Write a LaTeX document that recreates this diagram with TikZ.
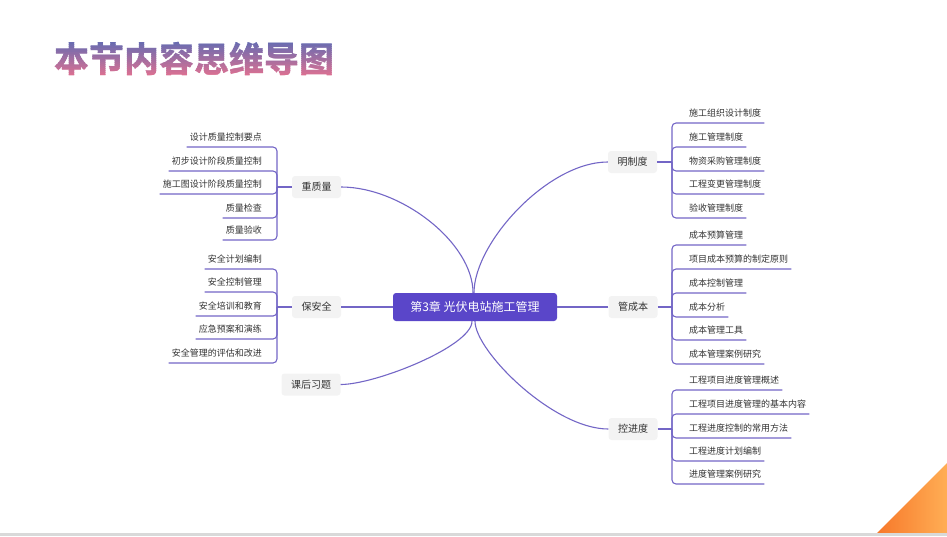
\documentclass[tikz,border=0pt]{standalone}
\usepackage{fontspec}
\setmainfont{Noto Sans CJK SC}

\definecolor{linkpurple}{HTML}{7366C6}
\definecolor{chapfill}{HTML}{5A46C9}
\definecolor{topicgray}{HTML}{F3F3F3}
\definecolor{inktext}{HTML}{333333}
\definecolor{titleblue}{HTML}{5C6BB4}
\definecolor{titlepink}{HTML}{E8718E}
\definecolor{orangedark}{HTML}{F7782A}
\definecolor{orangelight}{HTML}{FFAE55}
\definecolor{stripgray}{HTML}{D9D9D9}

\begin{document}
\begin{tikzpicture}[
  x=1pt, y=-1pt,
  font=\fontsize{9}{11}\selectfont,
  link/.style={draw=linkpurple, line width=1.1pt, rounded corners=4pt},
  curve/.style={draw=linkpurple, line width=1.1pt},
  leaf/.style={inner xsep=3pt, inner ysep=5.5pt, text=inktext},
  leafl/.style={leaf, anchor=south east},
  leafr/.style={leaf, anchor=south west},
  topic/.style={fill=topicgray, rounded corners=3pt, inner xsep=9.5pt,
    minimum height=22pt, text=inktext, font=\fontsize{10}{12}\selectfont},
  chapter/.style={fill=chapfill, rounded corners=3pt, minimum width=164pt,
    minimum height=28pt, text=white, font=\fontsize{12}{14}\selectfont},
  title/.style={font=\fontsize{35}{40}\selectfont\bfseries}
]
  \useasboundingbox (0,0) rectangle (947,536);

  % title, set in thin bands from blue down to pink
  \foreach \i in {0,...,20} {
    \pgfmathsetmacro{\mix}{100-5*\i}
    \begin{scope}
      \clip (40,38+2*\i) rectangle (350,40+2*\i);
      \node[title, text=titleblue!\mix!titlepink] (ttl\i) at (194,59) {本节内容思维导图};
    \end{scope}
  }

  \node[chapter] (chap) at (475,307) {第3章 光伏电站施工管理};

  \node[topic] (zl) at (316.5,187) {重质量};
  \node[topic] (aq) at (316.5,307) {保安全};
  \node[topic] (kh) at (311,384.5) {课后习题};
  \node[topic] (zd) at (632.5,162) {明制度};
  \node[topic] (cb) at (633,307) {管成本};
  \node[topic] (jd) at (633,429) {控进度};

  \draw[curve] (zl.east) .. controls +(60,0) and +(0,-50) .. ([xshift=-2pt]chap.north);
  \draw[curve] (zd.west) .. controls +(-60,0) and +(0,-50) .. ([xshift=-1pt]chap.north);
  \draw[curve] (aq) -- (chap);
  \draw[curve] (cb) -- (chap);
  \draw[curve] (kh.east) .. controls +(35,0) and +(0,25) .. ([xshift=-3pt]chap.south);
  \draw[curve] (chap.south) .. controls +(0,30) and +(-55,0) .. (jd.west);

  % left: quality
  \coordinate (zlj) at (277,187);
  \node[leafl] (zl1) at (265,147) {设计质量控制要点};
  \node[leafl] (zl2) at (265,171) {初步设计阶段质量控制};
  \node[leafl] (zl3) at (265,194) {施工图设计阶段质量控制};
  \node[leafl] (zl4) at (265,218) {质量检查};
  \node[leafl] (zl5) at (265,240) {质量验收};
  \draw[link] (zl) -- (zlj);
  \draw[link] (zl1.south west) -| (zlj);
  \draw[link] (zl2.south west) -| (zlj);
  \draw[link] (zl3.south west) -| (zlj);
  \draw[link] (zl4.south west) -| (zlj);
  \draw[link] (zl5.south west) -| (zlj);

  % left: safety
  \coordinate (aqj) at (277,307);
  \node[leafl] (aq1) at (265,269) {安全计划编制};
  \node[leafl] (aq2) at (265,292) {安全控制管理};
  \node[leafl] (aq3) at (265,316) {安全培训和教育};
  \node[leafl] (aq4) at (265,339) {应急预案和演练};
  \node[leafl] (aq5) at (265,363) {安全管理的评估和改进};
  \draw[link] (aq) -- (aqj);
  \draw[link] (aq1.south west) -| (aqj);
  \draw[link] (aq2.south west) -| (aqj);
  \draw[link] (aq3.south west) -| (aqj);
  \draw[link] (aq4.south west) -| (aqj);
  \draw[link] (aq5.south west) -| (aqj);

  % right: rules
  \coordinate (zdj) at (672,162);
  \node[leafr] (zd1) at (686,123) {施工组织设计制度};
  \node[leafr] (zd2) at (686,147) {施工管理制度};
  \node[leafr] (zd3) at (686,171) {物资采购管理制度};
  \node[leafr] (zd4) at (686,194) {工程变更管理制度};
  \node[leafr] (zd5) at (686,218) {验收管理制度};
  \draw[link] (zd) -- (zdj);
  \draw[link] (zd1.south east) -| (zdj);
  \draw[link] (zd2.south east) -| (zdj);
  \draw[link] (zd3.south east) -| (zdj);
  \draw[link] (zd4.south east) -| (zdj);
  \draw[link] (zd5.south east) -| (zdj);

  % right: cost
  \coordinate (cbj) at (672,307);
  \node[leafr] (cb1) at (686,245) {成本预算管理};
  \node[leafr] (cb2) at (686,269) {项目成本预算的制定原则};
  \node[leafr] (cb3) at (686,293) {成本控制管理};
  \node[leafr] (cb4) at (686,317) {成本分析};
  \node[leafr] (cb5) at (686,340) {成本管理工具};
  \node[leafr] (cb6) at (686,364) {成本管理案例研究};
  \draw[link] (cb) -- (cbj);
  \draw[link] (cb1.south east) -| (cbj);
  \draw[link] (cb2.south east) -| (cbj);
  \draw[link] (cb3.south east) -| (cbj);
  \draw[link] (cb4.south east) -| (cbj);
  \draw[link] (cb5.south east) -| (cbj);
  \draw[link] (cb6.south east) -| (cbj);

  % right: schedule
  \coordinate (jdj) at (672,429);
  \node[leafr] (jd1) at (686,390) {工程项目进度管理概述};
  \node[leafr] (jd2) at (686,414) {工程项目进度管理的基本内容};
  \node[leafr] (jd3) at (686,438) {工程进度控制的常用方法};
  \node[leafr] (jd4) at (686,461) {工程进度计划编制};
  \node[leafr] (jd5) at (686,484) {进度管理案例研究};
  \draw[link] (jd) -- (jdj);
  \draw[link] (jd1.south east) -| (jdj);
  \draw[link] (jd2.south east) -| (jdj);
  \draw[link] (jd3.south east) -| (jdj);
  \draw[link] (jd4.south east) -| (jdj);
  \draw[link] (jd5.south east) -| (jdj);

  % slide corner and bottom edge
  \shade[left color=orangedark, right color=orangelight]
    (877,533) -- (947,463) -- (947,533) -- cycle;
  \fill[stripgray] (0,533) rectangle (947,536);
\end{tikzpicture}
\end{document}
